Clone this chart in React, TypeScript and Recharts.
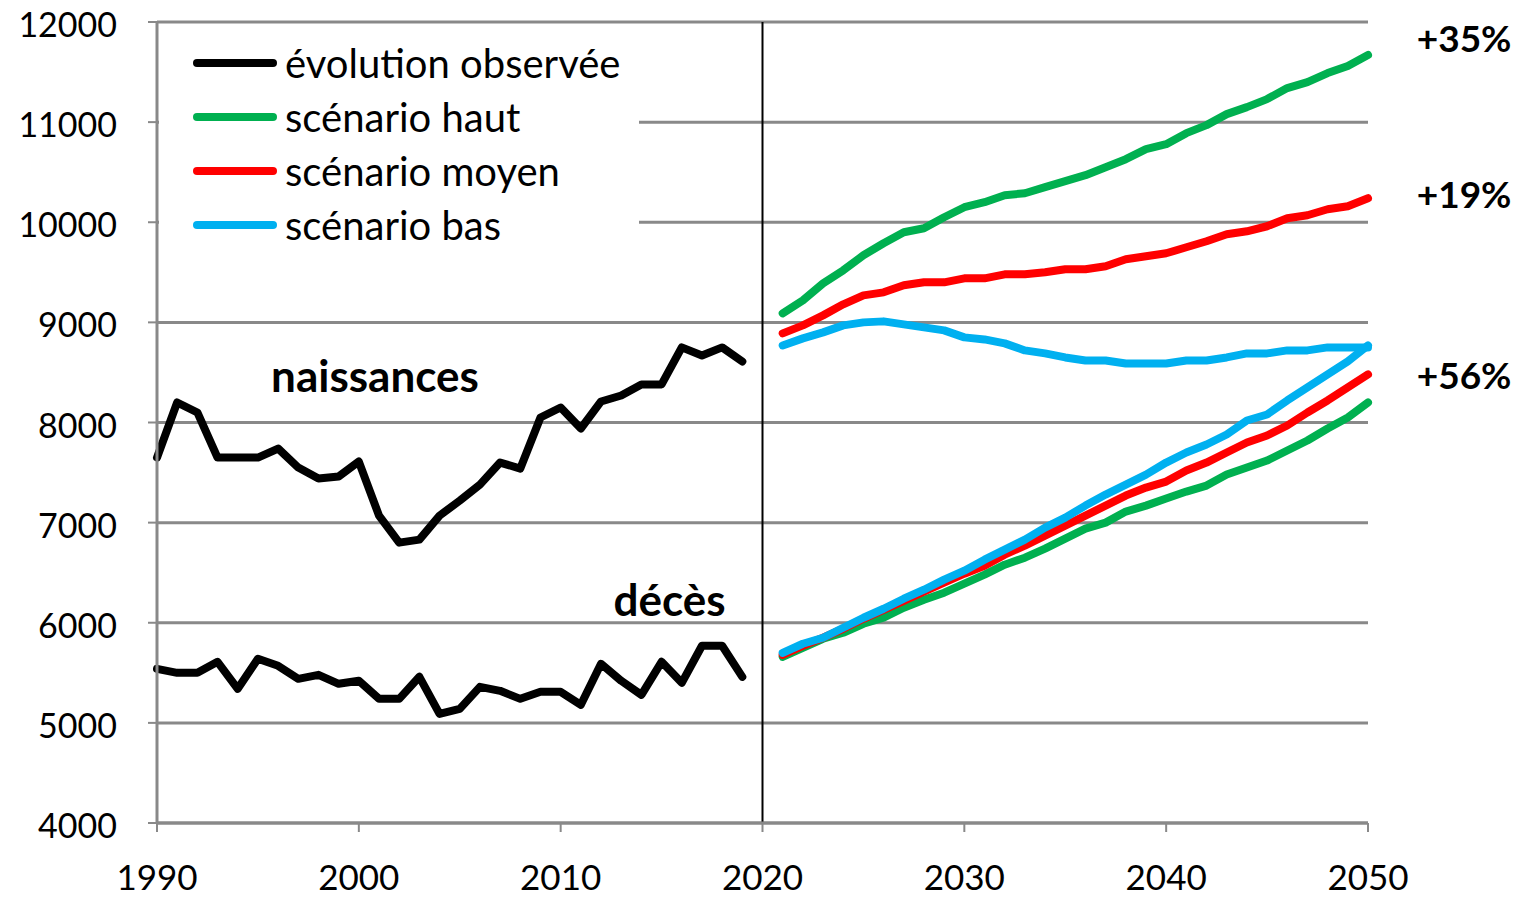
import React from 'react';
import { LineChart, Line, XAxis, YAxis, CartesianGrid, ReferenceLine, ReferenceDot, Legend } from 'recharts';

const obsYears = Array.from({ length: 30 }, (_, i) => 1990 + i);
const projYears = Array.from({ length: 30 }, (_, i) => 2021 + i);

const birthsObs = [7650, 8200, 8100, 7650, 7650, 7650, 7740, 7550, 7440, 7460, 7610, 7070, 6800, 6830, 7070, 7220, 7380, 7600, 7540, 8050, 8150, 7940, 8210, 8270, 8380, 8380, 8750, 8670, 8750, 8610];
const deathsObs = [5540, 5500, 5500, 5610, 5340, 5640, 5570, 5440, 5480, 5390, 5420, 5240, 5240, 5460, 5090, 5140, 5360, 5320, 5240, 5310, 5310, 5180, 5590, 5420, 5280, 5610, 5400, 5770, 5770, 5460];

const birthsHigh = [9090, 9220, 9390, 9520, 9670, 9790, 9900, 9940, 10050, 10150, 10200, 10270, 10290, 10350, 10410, 10470, 10550, 10630, 10730, 10780, 10890, 10970, 11080, 11150, 11230, 11340, 11400, 11490, 11560, 11670];
const birthsMid = [8890, 8970, 9070, 9180, 9270, 9300, 9370, 9400, 9400, 9440, 9440, 9480, 9480, 9500, 9530, 9530, 9560, 9630, 9660, 9690, 9750, 9810, 9880, 9910, 9960, 10040, 10070, 10130, 10160, 10240];
const birthsLow = [8770, 8840, 8900, 8970, 9000, 9010, 8980, 8950, 8920, 8850, 8830, 8790, 8720, 8690, 8650, 8620, 8620, 8590, 8590, 8590, 8620, 8620, 8650, 8690, 8690, 8720, 8720, 8750, 8750, 8750];

const deathsHigh = [5660, 5750, 5840, 5900, 5990, 6050, 6150, 6230, 6300, 6390, 6480, 6580, 6650, 6740, 6840, 6940, 7000, 7110, 7170, 7240, 7310, 7370, 7480, 7550, 7620, 7720, 7820, 7940, 8050, 8200];
const deathsMid = [5680, 5770, 5850, 5940, 6040, 6130, 6220, 6310, 6400, 6490, 6570, 6680, 6770, 6870, 6970, 7070, 7170, 7270, 7350, 7410, 7520, 7600, 7700, 7800, 7870, 7970, 8100, 8220, 8350, 8480];
const deathsLow = [5700, 5790, 5850, 5950, 6050, 6140, 6240, 6330, 6430, 6520, 6630, 6730, 6830, 6950, 7050, 7170, 7280, 7380, 7480, 7600, 7700, 7780, 7880, 8020, 8080, 8220, 8350, 8480, 8610, 8770];

const xTicks = [1990, 2000, 2010, 2020, 2030, 2040, 2050];
const yTicks = [4000, 5000, 6000, 7000, 8000, 9000, 10000, 11000, 12000];

const legendItems = [
  { name: 'évolution observée', color: '#000000' },
  { name: 'scénario haut', color: '#00B050' },
  { name: 'scénario moyen', color: '#FF0000' },
  { name: 'scénario bas', color: '#00B0F0' },
];

const annotations = [
  { text: 'naissances', x: 2000.8, y: 8300, size: 44 },
  { text: 'décès', x: 2015.4, y: 6070, size: 44 },
  { text: '+35%', x: 2054.76, y: 11700, size: 37 },
  { text: '+19%', x: 2054.76, y: 10145, size: 37 },
  { text: '+56%', x: 2054.76, y: 8335, size: 37 },
];

const data = [];
for (let yr = 1990; yr <= 2050; yr++) {
  const row: any = { year: yr };
  const oi = obsYears.indexOf(yr);
  if (oi >= 0) {
    row.nObs = birthsObs[oi];
    row.dObs = deathsObs[oi];
  }
  const pi = projYears.indexOf(yr);
  if (pi >= 0) {
    row.nHigh = birthsHigh[pi];
    row.nMid = birthsMid[pi];
    row.nLow = birthsLow[pi];
    row.dHigh = deathsHigh[pi];
    row.dMid = deathsMid[pi];
    row.dLow = deathsLow[pi];
  }
  data.push(row);
}

const FONT = 'Lato, "Open Sans", sans-serif';
const GRID = '#898989';

const YTick = (props: any) => {
  const { x, y, payload } = props;
  return (
    <text x={x - 29} y={y + 15} textAnchor="end" fontFamily={FONT} fontSize={34} fill="#000">
      {payload.value}
    </text>
  );
};

const XTick = (props: any) => {
  const { x, y, payload } = props;
  return (
    <text x={x} y={y + 56} textAnchor="middle" fontFamily={FONT} fontSize={35} fill="#000">
      {payload.value}
    </text>
  );
};

const makeAnnot = (text: string, size: number) => (props: any) => {
  const { cx, cy } = props;
  return (
    <text x={cx} y={cy} textAnchor="middle" fontFamily={FONT} fontWeight={700} fontSize={size} fill="#000">
      {text}
    </text>
  );
};

const renderLegend = () => (
  <div style={{ background: '#fff', width: 480, height: 222, paddingTop: 4, boxSizing: 'border-box' }}>
    {legendItems.map((it) => (
      <div key={it.name} style={{ display: 'flex', alignItems: 'center', height: 54 }}>
        <div style={{ marginLeft: 34, width: 84, height: 8, borderRadius: 4, background: it.color }} />
        <div style={{ marginLeft: 8, fontFamily: FONT, fontSize: 40, lineHeight: 1, color: '#000', whiteSpace: 'nowrap' }}>{it.name}</div>
      </div>
    ))}
  </div>
);

const lineProps = {
  type: 'linear' as const,
  strokeWidth: 8,
  dot: false,
  activeDot: false,
  isAnimationActive: false,
  strokeLinecap: 'round' as const,
  strokeLinejoin: 'round' as const,
  legendType: 'none' as const,
};

export default function App() {
  return (
    <div style={{ fontFamily: FONT }}>
      <LineChart width={1516} height={890} data={data} margin={{ top: 14, right: 156, bottom: 0, left: 0 }}>
        <CartesianGrid vertical={false} stroke={GRID} strokeWidth={3} />
        <XAxis
          dataKey="year"
          type="number"
          domain={[1990, 2050]}
          ticks={xTicks}
          interval={0}
          height={75}
          axisLine={{ stroke: GRID, strokeWidth: 3 }}
          tickLine={{ stroke: GRID, strokeWidth: 2 }}
          tickSize={9}
          tick={<XTick />}
        />
        <YAxis
          type="number"
          domain={[4000, 12000]}
          ticks={yTicks}
          interval={0}
          width={149}
          axisLine={{ stroke: GRID, strokeWidth: 3 }}
          tickLine={{ stroke: GRID, strokeWidth: 2 }}
          tickSize={9}
          tick={<YTick />}
        />
        <Legend
          layout="vertical"
          align="center"
          verticalAlign="middle"
          wrapperStyle={{ left: 151, top: 24, width: 480, height: 222 }}
          content={renderLegend}
        />
        <ReferenceLine x={2020} stroke="#000" strokeWidth={2} />
        <Line dataKey="nObs" stroke="#000000" {...lineProps} />
        <Line dataKey="dObs" stroke="#000000" {...lineProps} />
        <Line dataKey="nHigh" stroke="#00B050" {...lineProps} />
        <Line dataKey="nMid" stroke="#FF0000" {...lineProps} />
        <Line dataKey="nLow" stroke="#00B0F0" {...lineProps} />
        <Line dataKey="dHigh" stroke="#00B050" {...lineProps} />
        <Line dataKey="dMid" stroke="#FF0000" {...lineProps} />
        <Line dataKey="dLow" stroke="#00B0F0" {...lineProps} />
        {annotations.map((a) => (
          <ReferenceDot
            key={a.text}
            x={a.x}
            y={a.y}
            r={0}
            ifOverflow="visible"
            shape={makeAnnot(a.text, a.size)}
          />
        ))}
      </LineChart>
    </div>
  );
}
